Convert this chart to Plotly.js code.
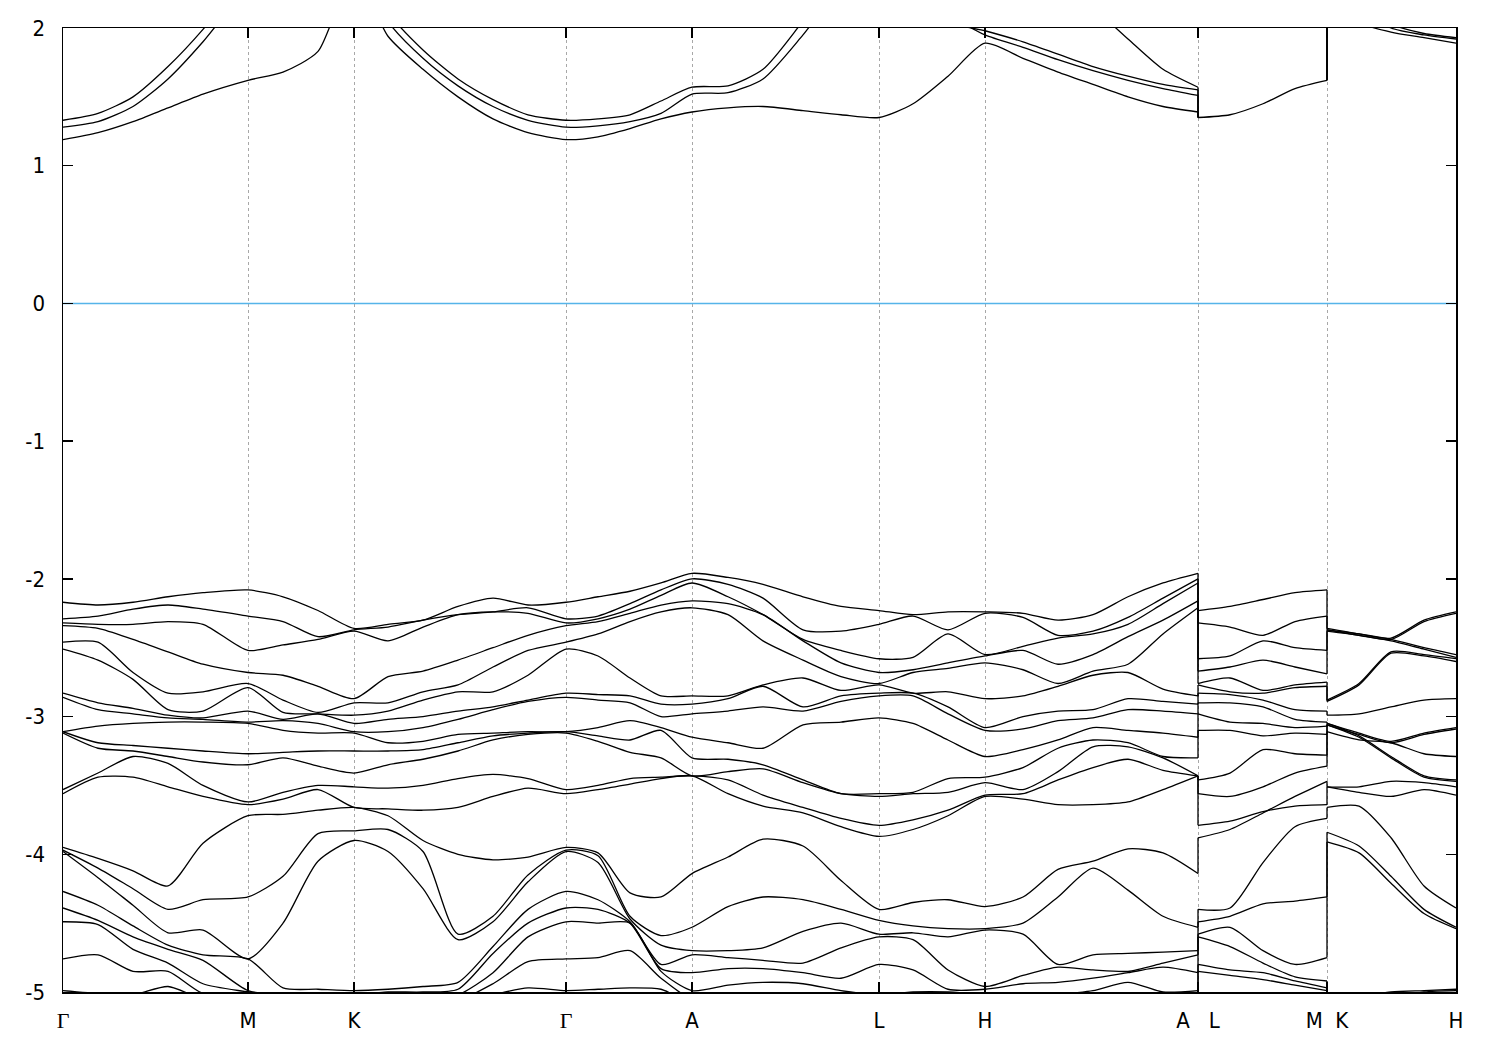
<!DOCTYPE html>
<html>
<head>
<meta charset="utf-8">
<script src="https://cdn.plot.ly/plotly-3.0.1.min.js"></script>
<style>html,body{margin:0;padding:0;background:#fff}</style>
</head>
<body>
<div id="chart" style="width:1500px;height:1050px"></div>
<script>
// ---- k-path positions (path length units) ----
const kSeg1 = [0,35,70,105,140,185,220,255,291,325,360,395,430,465,503,535,567,598,629,665,700,740,778,816,850,885,922,960,995,1030,1065,1100,1135];
const kSeg2 = [1135,1167,1200,1232,1264];
const kSeg3 = [1264,1296,1328,1361,1393];
const tickPos = [0,185,291,503,629,816,922,1135,1264,1393];
const tickLabels = ['Γ','M','K','Γ','A','L','H','A\u00a0\u00a0\u00a0L','M\u00a0\u00a0K','H'];
const yTicks = [-5,-4,-3,-2,-1,0,1,2];
const yTickLabels = ['-5','-4','-3','-2','-1','0','1','2'];
const fermiLevel = 0;

// ---- valence eigenvalues (eV) at each k column of segment Γ-M-K-Γ-A-L-H-A ----
const colGamma = [-2.17,-2.29,-2.32,-2.34,-2.46,-2.51,-2.83,-2.86,-3.11,-3.11,-3.12,-3.53,-3.56,-3.95,-3.97,-3.98,-4.27,-4.39,-4.49,-4.76,-4.99];
const col01 = [-2.19,-2.27,-2.33,-2.36,-2.46,-2.59,-2.90,-2.95,-3.07,-3.19,-3.23,-3.41,-3.44,-4.03,-4.10,-4.17,-4.37,-4.48,-4.51,-4.73,-5.01];
const col02 = [-2.17,-2.22,-2.33,-2.44,-2.68,-2.73,-2.94,-2.98,-3.05,-3.21,-3.25,-3.29,-3.44,-4.12,-4.25,-4.37,-4.52,-4.60,-4.69,-4.85,-5.02];
const col03 = [-2.13,-2.19,-2.31,-2.53,-2.83,-2.95,-2.99,-3.01,-3.04,-3.23,-3.29,-3.34,-3.51,-4.23,-4.40,-4.57,-4.66,-4.69,-4.79,-4.85,-4.96];
const col04 = [-2.10,-2.22,-2.33,-2.62,-2.82,-2.96,-3.01,-3.02,-3.04,-3.25,-3.33,-3.50,-3.58,-3.92,-4.33,-4.55,-4.73,-4.77,-4.94,-5.01,-5.05];
const colM = [-2.08,-2.27,-2.52,-2.68,-2.76,-2.79,-2.96,-3.04,-3.05,-3.27,-3.35,-3.62,-3.64,-3.72,-4.31,-4.76,-4.76,-4.99,-5.00,-5.02,-5.05];
const col06 = [-2.13,-2.31,-2.48,-2.70,-2.88,-2.97,-3.02,-3.03,-3.10,-3.26,-3.30,-3.55,-3.60,-3.71,-4.16,-4.50,-4.97,-5.02,-5.04,-5.06,-5.08];
const col07 = [-2.23,-2.42,-2.44,-2.78,-2.97,-2.98,-2.98,-3.05,-3.12,-3.25,-3.36,-3.50,-3.53,-3.68,-3.85,-4.05,-4.98,-5.02,-5.04,-5.06,-5.08];
const colK = [-2.36,-2.37,-2.38,-2.87,-2.90,-2.99,-3.05,-3.11,-3.12,-3.25,-3.41,-3.51,-3.66,-3.66,-3.83,-3.90,-4.99,-5.02,-5.04,-5.06,-5.08];
const col09 = [-2.33,-2.35,-2.45,-2.71,-2.90,-2.96,-3.02,-3.11,-3.19,-3.25,-3.35,-3.52,-3.67,-3.72,-3.82,-3.98,-4.98,-5.00,-5.04,-5.06,-5.08];
const col10 = [-2.30,-2.30,-2.35,-2.67,-2.82,-2.88,-3.00,-3.08,-3.18,-3.24,-3.31,-3.50,-3.68,-3.90,-3.98,-4.25,-4.96,-5.00,-5.04,-5.06,-5.08];
const col11 = [-2.20,-2.26,-2.26,-2.59,-2.77,-2.82,-2.96,-3.02,-3.13,-3.19,-3.25,-3.45,-3.66,-4.00,-4.58,-4.62,-4.93,-4.98,-5.02,-5.06,-5.08];
const col12 = [-2.14,-2.24,-2.24,-2.50,-2.64,-2.82,-2.93,-2.95,-3.12,-3.14,-3.17,-3.42,-3.58,-4.04,-4.45,-4.49,-4.67,-4.72,-4.86,-4.94,-5.02];
const col13 = [-2.19,-2.21,-2.25,-2.41,-2.52,-2.70,-2.88,-2.89,-3.11,-3.12,-3.13,-3.45,-3.52,-4.02,-4.15,-4.20,-4.40,-4.50,-4.60,-4.78,-4.97];
const col15 = [-2.13,-2.27,-2.29,-2.31,-2.40,-2.56,-2.84,-2.88,-3.08,-3.14,-3.18,-3.50,-3.53,-3.99,-4.01,-4.06,-4.33,-4.40,-4.50,-4.75,-4.98];
const col16 = [-2.09,-2.18,-2.22,-2.25,-2.31,-2.72,-2.85,-2.90,-3.03,-3.17,-3.26,-3.45,-3.49,-4.28,-4.45,-4.47,-4.49,-4.50,-4.50,-4.70,-4.97];
const col17 = [-2.03,-2.08,-2.12,-2.19,-2.24,-2.85,-2.91,-3.00,-3.08,-3.10,-3.30,-3.44,-3.45,-4.31,-4.59,-4.66,-4.80,-4.83,-4.85,-4.90,-4.98];
const colA = [-1.96,-2.00,-2.03,-2.16,-2.21,-2.85,-2.91,-2.98,-3.15,-3.30,-3.43,-3.43,-3.43,-4.14,-4.53,-4.70,-4.73,-4.86,-4.99,-5.05,-5.08];
const col19 = [-1.99,-2.04,-2.13,-2.18,-2.26,-2.85,-2.87,-2.96,-3.19,-3.31,-3.40,-3.46,-3.56,-4.02,-4.38,-4.70,-4.75,-4.83,-4.95,-5.02,-5.05];
const col20 = [-2.04,-2.14,-2.26,-2.26,-2.45,-2.77,-2.78,-2.93,-3.23,-3.35,-3.38,-3.57,-3.65,-3.89,-4.31,-4.68,-4.77,-4.83,-4.93,-5.02,-5.05];
const col21 = [-2.13,-2.37,-2.44,-2.45,-2.59,-2.72,-2.93,-2.96,-3.06,-3.46,-3.48,-3.66,-3.70,-3.94,-4.33,-4.56,-4.79,-4.86,-4.94,-5.02,-5.05];
const col22 = [-2.20,-2.38,-2.52,-2.61,-2.71,-2.81,-2.85,-2.89,-3.04,-3.56,-3.56,-3.74,-3.80,-4.19,-4.40,-4.50,-4.68,-4.90,-4.99,-5.02,-5.05];
const colL = [-2.23,-2.33,-2.58,-2.68,-2.76,-2.77,-2.83,-2.85,-3.01,-3.56,-3.58,-3.79,-3.87,-4.40,-4.48,-4.58,-4.60,-4.80,-5.02,-5.04,-5.06];
const col24 = [-2.26,-2.27,-2.57,-2.66,-2.68,-2.83,-2.83,-2.85,-3.05,-3.55,-3.56,-3.75,-3.82,-4.35,-4.52,-4.57,-4.62,-4.84,-5.00,-5.04,-5.06];
const col25 = [-2.24,-2.37,-2.40,-2.61,-2.65,-2.82,-2.93,-2.98,-3.17,-3.45,-3.55,-3.68,-3.72,-4.33,-4.54,-4.60,-4.84,-4.98,-5.00,-5.04,-5.06];
const colH = [-2.24,-2.25,-2.55,-2.56,-2.61,-2.87,-3.08,-3.10,-3.29,-3.44,-3.48,-3.57,-3.58,-4.38,-4.54,-4.55,-4.96,-4.98,-5.02,-5.04,-5.06];
const col27 = [-2.25,-2.28,-2.49,-2.52,-2.66,-2.85,-3.00,-3.09,-3.24,-3.37,-3.53,-3.56,-3.60,-4.31,-4.50,-4.58,-4.88,-4.94,-5.05,-5.06,-5.08];
const col28 = [-2.30,-2.41,-2.43,-2.62,-2.76,-2.78,-2.96,-3.03,-3.17,-3.23,-3.40,-3.46,-3.64,-4.11,-4.31,-4.80,-4.82,-4.93,-5.02,-5.06,-5.08];
const col29 = [-2.26,-2.38,-2.40,-2.55,-2.67,-2.70,-2.95,-3.01,-3.08,-3.17,-3.22,-3.37,-3.64,-4.05,-4.10,-4.73,-4.84,-4.90,-4.99,-5.06,-5.08];
const col30 = [-2.13,-2.28,-2.33,-2.42,-2.62,-2.68,-2.87,-2.95,-3.10,-3.19,-3.22,-3.31,-3.62,-3.96,-4.26,-4.72,-4.85,-4.86,-4.93,-5.06,-5.08];
const col31 = [-2.03,-2.14,-2.18,-2.30,-2.40,-2.80,-2.89,-2.96,-3.12,-3.29,-3.30,-3.39,-3.53,-3.99,-4.45,-4.71,-4.79,-4.82,-5.00,-5.06,-5.08];

// ---- segment L-M (band order kept per column) ----
const lmL   = [-2.23,-2.32,-2.58,-2.67,-2.76,-2.77,-2.83,-2.90,-2.98,-3.10,-3.46,-3.56,-3.79,-3.88,-4.40,-4.49,-4.58,-4.60,-4.80,-4.85];
const lm1   = [-2.20,-2.35,-2.56,-2.64,-2.72,-2.82,-2.84,-2.90,-3.04,-3.10,-3.41,-3.58,-3.76,-3.82,-4.39,-4.45,-4.53,-4.67,-4.84,-4.88];
const lm2   = [-2.15,-2.41,-2.45,-2.59,-2.81,-2.83,-2.88,-2.93,-3.05,-3.14,-3.24,-3.51,-3.69,-3.70,-4.06,-4.36,-4.70,-4.79,-4.86,-4.91];
const lm3   = [-2.10,-2.31,-2.50,-2.64,-2.77,-2.79,-2.95,-3.02,-3.08,-3.12,-3.27,-3.41,-3.65,-3.58,-3.80,-4.34,-4.80,-4.89,-4.92,-4.95];
const lmM   = [-2.08,-2.27,-2.52,-2.69,-2.75,-2.78,-2.96,-3.04,-3.07,-3.13,-3.28,-3.36,-3.64,-3.47,-3.74,-4.31,-4.75,-4.92,-4.97,-4.99];

// ---- segment K-H (band order kept per column) ----
const khK   = [-2.36,-2.37,-2.37,-2.38,-2.88,-2.89,-2.99,-3.05,-3.06,-3.11,-3.05,-3.06,-3.51,-3.51,-3.66,-3.84,-3.91,-5.05,-5.10];
const kh1   = [-2.40,-2.41,-2.40,-2.41,-2.76,-2.77,-2.98,-3.12,-3.13,-3.17,-3.14,-3.15,-3.51,-3.55,-3.65,-3.94,-3.99,-5.03,-5.10];
const kh2   = [-2.43,-2.44,-2.44,-2.45,-2.53,-2.54,-2.93,-3.18,-3.19,-3.19,-3.29,-3.30,-3.47,-3.58,-3.88,-4.16,-4.21,-5.00,-5.05];
const kh3   = [-2.30,-2.31,-2.50,-2.51,-2.55,-2.56,-2.88,-3.12,-3.13,-3.27,-3.43,-3.44,-3.48,-3.53,-4.23,-4.40,-4.43,-4.99,-5.00];
const khH   = [-2.24,-2.25,-2.55,-2.57,-2.58,-2.60,-2.87,-3.08,-3.09,-3.29,-3.46,-3.47,-3.51,-3.57,-4.39,-4.53,-4.54,-4.98,-4.99];

// ---- conduction bands: segment Γ-…-A (33 values) and segment K-H (5 values) ----
const cbA = [1.19,1.24,1.32,1.42,1.52,1.62,1.68,1.83,2.40,1.94,1.70,1.50,1.34,1.24,1.19,1.21,1.27,1.34,1.39,1.42,1.43,1.40,1.37,1.35,1.45,1.65,1.89,1.78,1.68,1.59,1.50,1.43,1.39];
const cbB = [1.28,1.32,1.43,1.63,1.90,2.30,2.50,2.60,2.70,2.05,1.78,1.58,1.43,1.33,1.28,1.29,1.32,1.38,1.52,1.53,1.63,1.95,2.30,2.50,2.30,2.10,1.95,1.86,1.77,1.69,1.62,1.56,1.51];
const cbC = [1.33,1.38,1.50,1.72,1.99,2.40,2.60,2.70,2.80,2.12,1.84,1.63,1.48,1.37,1.33,1.34,1.37,1.47,1.57,1.58,1.70,2.05,2.40,2.60,2.40,2.05,1.98,1.90,1.81,1.72,1.65,1.59,1.55];
const cbD = [null,null,null,null,null,null,null,null,null,null,null,null,null,null,null,null,null,null,null,null,null,null,null,null,null,null,null,null,2.35,2.15,1.92,1.70,1.57];
const cbLM = [1.35,1.37,1.45,1.56,1.62];
const cbKH_A = [2.60,2.05,1.97,1.93,1.89];
const cbKH_B = [2.70,2.15,2.00,1.95,1.92];
const cbKH_C = [2.80,2.20,2.03,1.96,1.93];
const cbKH_D = [2.90,2.50,2.30,2.20,2.10];

// ---------------------------------------------------------------
const seg1Cols = [colGamma,col01,col02,col03,col04,colM,col06,col07,colK,col09,col10,col11,col12,col13,colGamma,
                  col15,col16,col17,colA,col19,col20,col21,col22,colL,col24,col25,colH,col27,col28,col29,col30,col31,colA]
                 .map(c => [...c].sort((p,q) => q-p));
const seg2Cols = [lmL,lm1,lm2,lm3,lmM];
const seg3Cols = [khK,kh1,kh2,kh3,khH];

const lineStyle = {color:'#000', width:1.3, shape:'spline', smoothing:0.7};
const straight = {color:'#000', width:1.3};
const traces = [];

// Fermi level
traces.push({x:[kSeg1[0], kSeg3[kSeg3.length-1]], y:[fermiLevel, fermiLevel], mode:'lines',
             line:{color:'#56b4e9', width:1.5}, hoverinfo:'skip', showlegend:false});

function addSegment(k, cols) {
  const n = Math.min(...cols.map(c => c.length));
  for (let b = 0; b < n; b++) {
    traces.push({x:k, y:cols.map(c => c[b]), mode:'lines', line:lineStyle, hoverinfo:'skip', showlegend:false});
  }
}
addSegment(kSeg1, seg1Cols);
addSegment(kSeg2, seg2Cols);
addSegment(kSeg3, seg3Cols);

// vertical connectors at the path discontinuities (rank paired)
function jump(kx, endCol, startCol) {
  const a = [...endCol].sort((p,q) => q-p), b = [...startCol].sort((p,q) => q-p);
  const xs = [], ys = [];
  for (let i = 0; i < Math.min(a.length, b.length); i++) { xs.push(kx, kx, null); ys.push(a[i], b[i], null); }
  traces.push({x:xs, y:ys, mode:'lines', line:straight, hoverinfo:'skip', showlegend:false});
}
jump(kSeg2[0], seg1Cols[seg1Cols.length-1], seg2Cols[0]);
jump(kSeg3[0], seg2Cols[seg2Cols.length-1], seg3Cols[0]);

// conduction bands
traces.push({x:kSeg2, y:cbLM, mode:'lines', line:lineStyle, hoverinfo:'skip', showlegend:false});
[[cbA,cbKH_A],[cbB,cbKH_B],[cbC,cbKH_C],[cbD,cbKH_D]].forEach(([s1,s3]) => {
  traces.push({x:kSeg1, y:s1, mode:'lines', line:lineStyle, connectgaps:false, hoverinfo:'skip', showlegend:false});
  traces.push({x:kSeg3, y:s3, mode:'lines', line:lineStyle, hoverinfo:'skip', showlegend:false});
  const xs = [kSeg2[0], kSeg2[0], null, kSeg3[0], kSeg3[0]];
  const ys = [s1[s1.length-1], cbLM[0], null, cbLM[cbLM.length-1], s3[0]];
  traces.push({x:xs, y:ys, mode:'lines', line:straight, hoverinfo:'skip', showlegend:false});
});

const fontFam = "'Liberation Sans Narrow', 'DejaVu Sans Condensed', 'Liberation Sans', sans-serif";
const ticktext = tickLabels.map(t => t === 'Γ' ? '<span style="font-family:Liberation Serif, DejaVu Serif, serif">Γ</span>' : t);

const layout = {
  width:1500, height:1050,
  margin:{l:63, r:44, t:28, b:58},
  paper_bgcolor:'#fff', plot_bgcolor:'#fff',
  showlegend:false,
  font:{family:fontFam, color:'#000', size:22},
  xaxis:{
    range:[0,1393], tickmode:'array', tickvals:tickPos, ticktext:ticktext,
    ticks:'inside', ticklen:10, tickwidth:1.5, tickcolor:'#000',
    showline:true, linecolor:'#000', linewidth:1.5, mirror:'allticks',
    showgrid:true, gridcolor:'#a8a8a8', gridwidth:1, griddash:'3px,3px',
    zeroline:false, tickfont:{family:fontFam, size:22, color:'#000'}, ticklabelstandoff:8
  },
  yaxis:{
    range:[-5,2], tickmode:'array', tickvals:yTicks, ticktext:yTickLabels,
    ticks:'inside', ticklen:10, tickwidth:1.5, tickcolor:'#000',
    showline:true, linecolor:'#000', linewidth:1.5, mirror:'allticks',
    showgrid:false, zeroline:false,
    tickfont:{family:fontFam, size:22, color:'#000'}, ticklabelstandoff:12
  }
};
Plotly.newPlot('chart', traces, layout, {staticPlot:true, displayModeBar:false});
</script>
</body>
</html>
